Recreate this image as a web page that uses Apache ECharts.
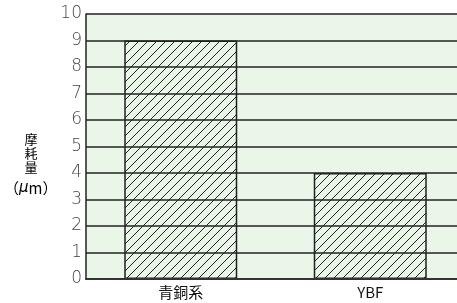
<!DOCTYPE html>
<html>
<head>
<meta charset="utf-8">
<script src="https://cdn.jsdelivr.net/npm/echarts@6/dist/echarts.min.js"></script>
<style>
  html, body { margin: 0; padding: 0; background: #fff; overflow: hidden; }
  #chart { width: 465px; height: 303px; }
</style>
</head>
<body>
<div id="chart"></div>
<script>
const categories = ['青銅系', 'YBF'];
const wearValues = [9, 4];
const yTicks = [0, 10, 1];

// hatch tile for the bars
function hatch() {
  const s = 9;
  const c = document.createElement('canvas');
  c.width = s; c.height = s;
  const ctx = c.getContext('2d');
  ctx.fillStyle = '#eaf6e8';
  ctx.fillRect(0, 0, s, s);
  ctx.strokeStyle = '#222';
  ctx.lineWidth = 1;
  ctx.beginPath();
  ctx.moveTo(-1, s + 1); ctx.lineTo(s + 1, -1);
  ctx.moveTo(-1, 1); ctx.lineTo(1, -1);
  ctx.moveTo(s - 1, s + 1); ctx.lineTo(s + 1, s - 1);
  ctx.stroke();
  return c;
}

const chart = echarts.init(document.getElementById('chart'));
chart.setOption({
  animation: false,
  grid: { left: 86, right: 0, top: 14, bottom: 24, show: true, backgroundColor: '#eaf6e8', borderWidth: 0 },
  xAxis: {
    type: 'category',
    data: categories,
    z: 5,
    axisTick: { show: false },
    axisLine: { lineStyle: { color: '#333', width: 2 } },
    axisLabel: { color: '#111', fontSize: 15, margin: 6, fontFamily: 'Noto Sans CJK JP' }
  },
  yAxis: {
    type: 'value',
    min: yTicks[0], max: yTicks[1], interval: yTicks[2],
    z: 5,
    axisTick: { show: false },
    axisLine: { show: true, lineStyle: { color: '#222', width: 1.5 } },
    splitLine: { lineStyle: { color: '#222', width: 1.5 } },
    axisLabel: { color: '#444', fontSize: 17, margin: 4, fontFamily: 'DejaVu Sans', fontWeight: 200 }
  },
  graphic: [{
    type: 'text',
    left: 4, top: 133,
    style: {
      text: '{c|摩}\n{c|耗}\n{c|量}\n{p|（}{i|μ}{p|m）}',
      align: 'center',
      rich: {
        c: { fontSize: 13, lineHeight: 14, color: '#111', fontFamily: 'Noto Sans CJK JP', width: 54, align: 'center' },
        p: { fontSize: 15, lineHeight: 28, color: '#111', fontFamily: 'Noto Sans CJK JP' },
        i: { fontSize: 15, lineHeight: 28, color: '#111', fontStyle: 'italic', fontFamily: 'DejaVu Sans' }
      }
    }
  }],
  series: [{
    type: 'bar',
    data: wearValues,
    barWidth: 113,
    z: 2,
    itemStyle: {
      color: { image: hatch(), repeat: 'repeat' },
      borderColor: '#222',
      borderWidth: 1.5
    }
  }]
});
</script>
</body>
</html>
